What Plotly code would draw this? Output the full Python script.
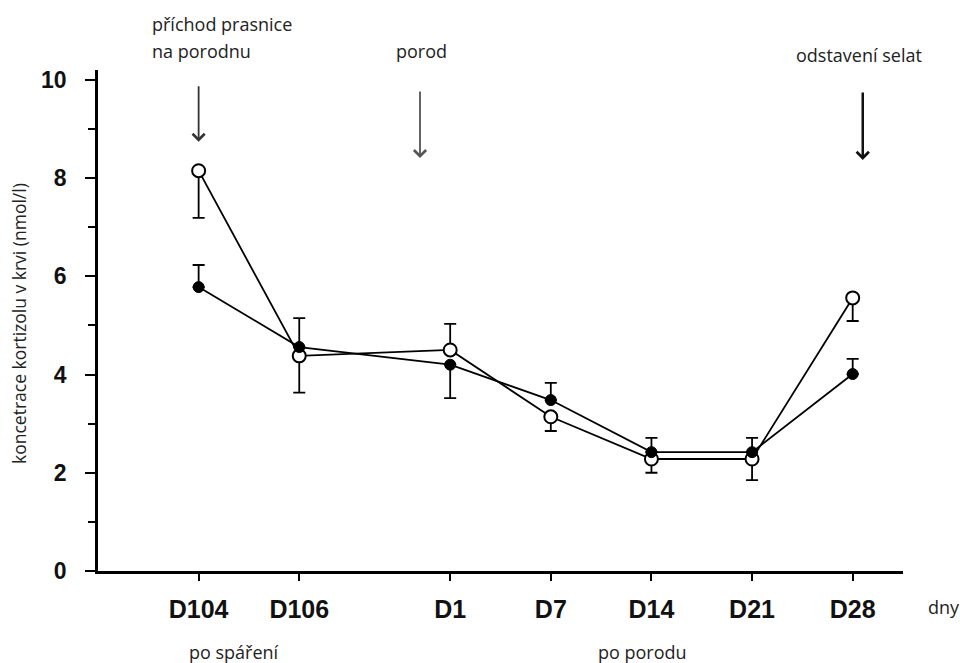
import plotly.graph_objects as go

# ---- data ----
days = ["D104", "D106", "D1", "D7", "D14", "D21", "D28"]
day_pos = [0, 1, 2.5, 3.5, 4.5, 5.5, 6.5]

open_vals = [8.15, 4.38, 4.50, 3.14, 2.28, 2.28, 5.56]
open_err_up = [0, 0, 0.53, 0, 0, 0, 0]
open_err_down = [0.96, 0.75, 0, 0.29, 0.28, 0.43, 0.47]

filled_vals = [5.78, 4.56, 4.20, 3.48, 2.42, 2.42, 4.01]
filled_err_up = [0.45, 0.59, 0, 0.35, 0.29, 0.29, 0.31]
filled_err_down = [0, 0, 0.68, 0, 0, 0, 0]

y_ticks = [0, 2, 4, 6, 8, 10]

# ---- layout geometry ----
W, H = 960, 663
ML, MR, MT, MB = 98, 57, 70, 92
PW, PH = W - ML - MR, H - MT - MB


def px(xp):
    return (xp - ML) / PW


def py(yp):
    return (H - MB - yp) / PH


fig = go.Figure()

# error bars (drawn first, under the markers)
for vals, up, down in [(open_vals, open_err_up, open_err_down),
                       (filled_vals, filled_err_up, filled_err_down)]:
    fig.add_trace(go.Scatter(
        x=day_pos, y=vals, mode="markers",
        marker=dict(size=1, opacity=0),
        error_y=dict(type="data", symmetric=False, array=up, arrayminus=down,
                     color="black", thickness=1.8, width=6),
        showlegend=False, hoverinfo="skip"))

# open circles series
fig.add_trace(go.Scatter(
    x=day_pos, y=open_vals, mode="lines+markers",
    line=dict(color="black", width=1.8),
    marker=dict(symbol="circle", size=13, color="white",
                line=dict(color="black", width=2)),
    showlegend=False))

# filled circles series
fig.add_trace(go.Scatter(
    x=day_pos, y=filled_vals, mode="lines+markers",
    line=dict(color="black", width=1.8),
    marker=dict(symbol="circle", size=11, color="black",
                line=dict(color="black", width=1)),
    showlegend=False))

txt_font = dict(family="Open Sans", size=18, color="#222")

annotations = [
    dict(text="příchod prasnice", x=px(150), y=py(24), xanchor="left", yanchor="middle"),
    dict(text="na porodnu", x=px(150), y=py(51), xanchor="left", yanchor="middle"),
    dict(text="porod", x=px(394), y=py(51), xanchor="left", yanchor="middle"),
    dict(text="odstavení selat", x=px(794), y=py(55), xanchor="left", yanchor="middle"),
    dict(text="dny", x=px(926), y=py(607), xanchor="left", yanchor="middle"),
    dict(text="po spáření", x=px(234), y=py(652), xanchor="center", yanchor="middle"),
    dict(text="po porodu", x=px(642), y=py(652), xanchor="center", yanchor="middle"),
    dict(text="koncetrace kortizolu v krvi (nmol/l)", x=px(19), y=py(324),
         xanchor="center", yanchor="middle", textangle=-90,
         font=dict(family="Open Sans", size=17.5, color="#222")),
]
for a in annotations:
    a.setdefault("font", txt_font)
    fig.add_annotation(xref="paper", yref="paper", showarrow=False, **a)

# arrows
arrows = [
    dict(x=day_pos[0], y=8.74, ay=-57, color="#333", width=1.8, size=1.3),
    dict(x=2.2, y=8.41, ay=-68, color="#555", width=1.8, size=1.3),
    dict(x=6.6, y=8.37, ay=-69, color="#111", width=2.5, size=0.95),
]
for a in arrows:
    fig.add_annotation(x=a["x"], y=a["y"], xref="x", yref="y", text="",
                       showarrow=True, ax=0, ay=a["ay"], arrowhead=4,
                       arrowsize=a["size"], arrowwidth=a["width"],
                       arrowcolor=a["color"])

fig.update_layout(
    width=W, height=H,
    margin=dict(l=ML, r=MR, t=MT, b=MB),
    plot_bgcolor="white", paper_bgcolor="white",
    showlegend=False,
    xaxis=dict(range=[-1, 7], tickmode="array", tickvals=day_pos, ticktext=days,
               showgrid=False, zeroline=False, showline=True, linecolor="black",
               linewidth=2.5, ticks="outside", ticklen=7, tickwidth=1.5,
               tickcolor="black", ticklabelstandoff=7,
               tickfont=dict(family="Liberation Sans", size=25, color="#111",
                             weight="bold")),
    yaxis=dict(range=[0, 10.2], tickmode="array", tickvals=y_ticks,
               showgrid=False, zeroline=False, showline=True, linecolor="black",
               linewidth=2.5, ticks="outside", ticklen=10, tickwidth=2,
               tickcolor="black", ticklabelstandoff=14,
               minor=dict(dtick=1, ticks="outside", ticklen=7, tickwidth=1.5,
                          tickcolor="black", showgrid=False),
               tickfont=dict(family="Liberation Sans", size=23, color="#111",
                             weight="bold")),
)

fig.write_html("out.html")
